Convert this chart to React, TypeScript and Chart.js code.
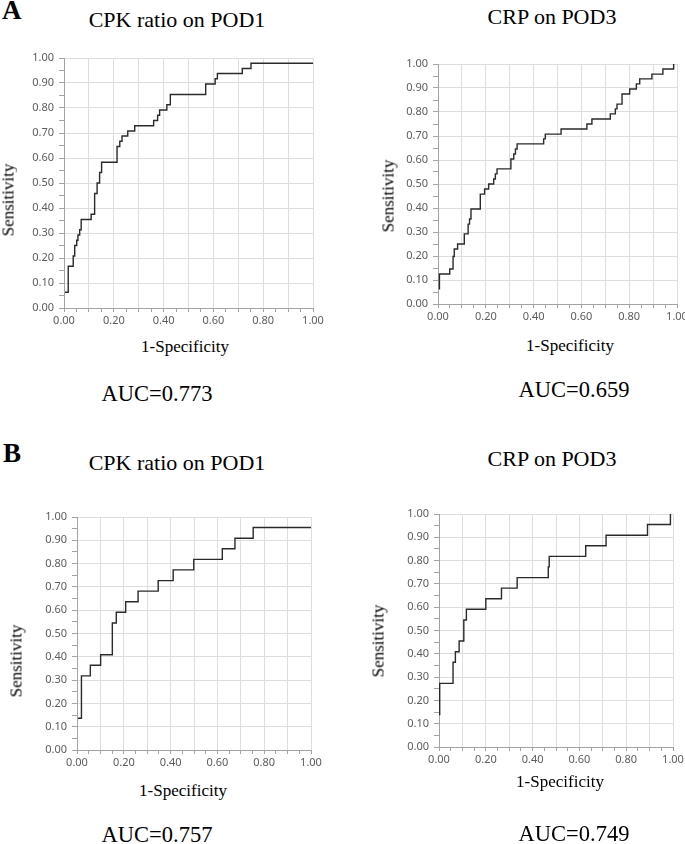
import React, { useEffect, useRef } from "react";
import { Chart, registerables } from "chart.js";

Chart.register(...registerables);

// ---- Data (ROC step points: x = 1-Specificity, y = Sensitivity) ----
const cpkPod1A_fpr = [0.004, 0.017, 0.037, 0.043, 0.051, 0.056, 0.063, 0.069, 0.109, 0.123, 0.133, 0.143, 0.151, 0.213, 0.224, 0.233, 0.256, 0.284, 0.36, 0.376, 0.384, 0.413, 0.427, 0.569, 0.607, 0.616, 0.716, 0.751, 1.0];
const cpkPod1A_tpr = [0.063, 0.167, 0.208, 0.25, 0.271, 0.292, 0.313, 0.354, 0.375, 0.458, 0.5, 0.542, 0.583, 0.646, 0.667, 0.688, 0.708, 0.729, 0.75, 0.771, 0.792, 0.813, 0.854, 0.896, 0.917, 0.938, 0.958, 0.979, 0.979];

const crpPod3A_fpr = [0.003, 0.006, 0.049, 0.063, 0.068, 0.082, 0.11, 0.126, 0.132, 0.138, 0.177, 0.195, 0.212, 0.233, 0.24, 0.247, 0.305, 0.317, 0.324, 0.331, 0.442, 0.449, 0.515, 0.623, 0.644, 0.721, 0.742, 0.749, 0.77, 0.802, 0.83, 0.844, 0.895, 0.941, 0.986];
const crpPod3A_tpr = [0.063, 0.125, 0.146, 0.198, 0.229, 0.25, 0.292, 0.333, 0.354, 0.396, 0.458, 0.479, 0.5, 0.521, 0.542, 0.563, 0.604, 0.625, 0.646, 0.667, 0.688, 0.708, 0.729, 0.75, 0.771, 0.792, 0.813, 0.833, 0.875, 0.896, 0.917, 0.938, 0.958, 0.979, 1.0];

const cpkPod1B_fpr = [0.004, 0.019, 0.057, 0.101, 0.151, 0.168, 0.208, 0.261, 0.347, 0.411, 0.499, 0.621, 0.675, 0.753, 1.0];
const cpkPod1B_tpr = [0.136, 0.318, 0.364, 0.409, 0.545, 0.591, 0.636, 0.682, 0.727, 0.773, 0.818, 0.864, 0.909, 0.955, 0.955];

const crpPod3B_fpr = [0.003, 0.003, 0.06, 0.07, 0.086, 0.106, 0.117, 0.2, 0.267, 0.334, 0.467, 0.471, 0.627, 0.714, 0.891, 0.989];
const crpPod3B_tpr = [0.136, 0.273, 0.364, 0.409, 0.455, 0.545, 0.591, 0.636, 0.682, 0.727, 0.773, 0.818, 0.864, 0.909, 0.955, 1.0];

const panelTitles = ["CPK ratio on POD1", "CRP on POD3", "CPK ratio on POD1", "CRP on POD3"];
const aucLabels = ["AUC=0.773", "AUC=0.659", "AUC=0.757", "AUC=0.749"];
const groupLetters = ["A", "B"];
const xAxisTitle = "1-Specificity";
const yAxisTitle = "Sensitivity";

// ---- Layout constants ----
const LW = 60; // y-axis box width
const TP = 12; // top padding
const RP = 16; // right padding
const BH = 28; // x-axis box height

const SERIF = "'Liberation Serif', 'Times New Roman', serif";
const TICK_FONT = { family: "'Noto Sans', 'DejaVu Sans', sans-serif", size: 11 };
const TICK_COLOR = "#5c5c5c";
const GRID_COLOR = "#dedede";
const AXIS_COLOR = "#a3a3a3";

type RocProps = {
  fpr: number[];
  tpr: number[];
  plotLeft: number;
  plotTop: number;
  plotW: number;
  plotH: number;
};

function RocChart({ fpr, tpr, plotLeft, plotTop, plotW, plotH }: RocProps) {
  const ref = useRef<HTMLCanvasElement | null>(null);
  const width = LW + plotW + RP;
  const height = TP + plotH + BH;
  useEffect(() => {
    if (!ref.current) return;
    const data = fpr.map((x, i) => ({ x, y: tpr[i] }));
    const gridColor = (ctx: any) => (ctx.index % 2 === 0 ? GRID_COLOR : "rgba(0,0,0,0)");
    const chart = new Chart(ref.current, {
      type: "line",
      data: {
        datasets: [
          {
            data,
            stepped: "before",
            borderColor: "#2a2a2a",
            borderWidth: 1.4,
            pointRadius: 0,
            fill: false,
          } as any,
        ],
      },
      options: {
        responsive: false,
        animation: false,
        events: [],
        layout: { padding: { left: 0, top: TP, right: RP, bottom: 0 } },
        plugins: { legend: { display: false }, tooltip: { enabled: false }, title: { display: false } },
        scales: {
          x: {
            type: "linear",
            min: 0,
            max: 1,
            afterFit: (s: any) => {
              s.height = BH;
            },
            ticks: {
              stepSize: 0.05,
              autoSkip: false,
              maxRotation: 0,
              padding: 2,
              font: TICK_FONT,
              color: TICK_COLOR,
              callback: (v: any, i: number) => (i % 4 === 0 ? Number(v).toFixed(2) : ""),
            },
            grid: { color: gridColor, tickColor: AXIS_COLOR, tickLength: 4, lineWidth: 1 },
            border: { color: AXIS_COLOR, width: 1 },
          },
          y: {
            type: "linear",
            min: 0,
            max: 1,
            afterFit: (s: any) => {
              s.width = LW;
            },
            ticks: {
              stepSize: 0.05,
              autoSkip: false,
              padding: 5,
              font: TICK_FONT,
              color: TICK_COLOR,
              callback: (v: any, i: number) => (i % 2 === 0 ? Number(v).toFixed(2) : ""),
            },
            grid: { color: gridColor, tickColor: AXIS_COLOR, tickLength: 5, lineWidth: 1 },
            border: { color: AXIS_COLOR, width: 1 },
          },
        },
      } as any,
    });
    return () => chart.destroy();
  }, []);
  return (
    <canvas
      ref={ref}
      width={width}
      height={height}
      style={{ position: "absolute", left: plotLeft - LW, top: plotTop - TP, width, height }}
    />
  );
}

type TextProps = {
  text: string;
  x: number;
  baseline: number;
  size: number;
  bold?: boolean;
  center?: boolean;
};

function Txt({ text, x, baseline, size, bold, center = true }: TextProps) {
  return (
    <div
      style={{
        position: "absolute",
        left: x,
        top: baseline - 0.8375 * size,
        fontFamily: SERIF,
        fontSize: size,
        lineHeight: 1,
        fontWeight: bold ? "bold" : "normal",
        whiteSpace: "nowrap",
        color: "#000",
        transform: center ? "translateX(-50%)" : undefined,
      }}
    >
      {text}
    </div>
  );
}

function VTxt({ text, cx, cy, size }: { text: string; cx: number; cy: number; size: number }) {
  return (
    <div
      style={{
        position: "absolute",
        left: cx,
        top: cy,
        fontFamily: SERIF,
        fontSize: size,
        lineHeight: 1,
        whiteSpace: "nowrap",
        color: "#000",
        transform: "translate(-50%, -50%) rotate(-90deg)",
      }}
    >
      {text}
    </div>
  );
}

export default function App() {
  return (
    <div
      style={{
        position: "absolute",
        left: 0,
        top: 0,
        width: 685,
        height: 844,
        overflow: "hidden",
        background: "#fff",
      }}
    >
      <RocChart fpr={cpkPod1A_fpr} tpr={cpkPod1A_tpr} plotLeft={64} plotTop={58} plotW={249} plotH={250} />
      <RocChart fpr={crpPod3A_fpr} tpr={crpPod3A_tpr} plotLeft={438} plotTop={64} plotW={239} plotH={240} />
      <RocChart fpr={cpkPod1B_fpr} tpr={cpkPod1B_tpr} plotLeft={77} plotTop={517} plotW={234} plotH={233} />
      <RocChart fpr={crpPod3B_fpr} tpr={crpPod3B_tpr} plotLeft={439} plotTop={514} plotW={234} plotH={233} />

      <Txt text={groupLetters[0]} x={2} baseline={20} size={27} bold center={false} />
      <Txt text={groupLetters[1]} x={3} baseline={463} size={27} bold center={false} />

      <Txt text={panelTitles[0]} x={177} baseline={27} size={22} />
      <Txt text={panelTitles[1]} x={552} baseline={24} size={22} />
      <Txt text={panelTitles[2]} x={177} baseline={470} size={22} />
      <Txt text={panelTitles[3]} x={552} baseline={466} size={22} />

      <VTxt text={yAxisTitle} cx={8} cy={200} size={17} />
      <VTxt text={yAxisTitle} cx={388} cy={196} size={17} />
      <VTxt text={yAxisTitle} cx={16} cy={661} size={17} />
      <VTxt text={yAxisTitle} cx={378} cy={641} size={17} />

      <Txt text={xAxisTitle} x={185} baseline={352} size={17} />
      <Txt text={xAxisTitle} x={570} baseline={351} size={17} />
      <Txt text={xAxisTitle} x={183} baseline={796} size={17} />
      <Txt text={xAxisTitle} x={560} baseline={787} size={17} />

      <Txt text={aucLabels[0]} x={157} baseline={402} size={22.5} />
      <Txt text={aucLabels[1]} x={574} baseline={398} size={22.5} />
      <Txt text={aucLabels[2]} x={157} baseline={843} size={22.5} />
      <Txt text={aucLabels[3]} x={574} baseline={842} size={22.5} />
    </div>
  );
}
